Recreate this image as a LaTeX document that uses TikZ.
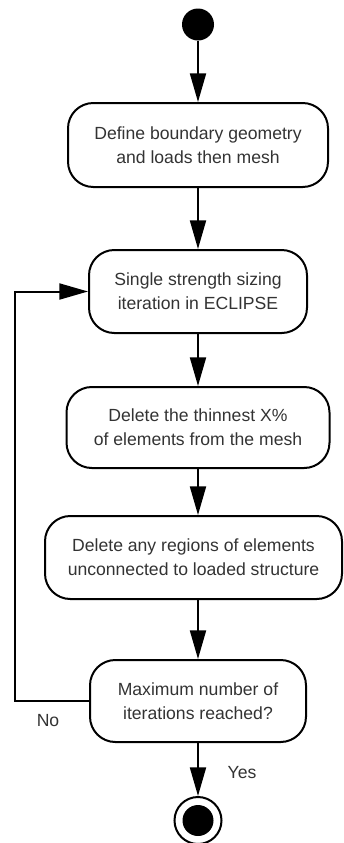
\documentclass[tikz,border=0pt]{standalone}
\usepackage{fontspec}
\setmainfont{Liberation Sans}
\usetikzlibrary{arrows.meta}
\definecolor{txtgray}{RGB}{51,51,51}

\tikzset{every picture/.style={line width=0.75pt}}
\tikzset{
  stepbox/.style={draw, line width=1.5, rounded corners=19pt, align=center, inner sep=0pt,
    font=\fontsize{13.2}{18}\selectfont, text=txtgray},
  flowarrow/.style={line width=1.5, -{Triangle[length=21.5pt,width=12pt]}},
  labeltext/.style={inner sep=0pt, font=\fontsize{13.2}{18}\selectfont, text=txtgray},
}

\begin{document}
\begin{tikzpicture}[x=0.75pt,y=0.75pt,yscale=-1,xscale=1]
    \useasboundingbox (0,0) rectangle (343,843);

    %Shape: Circle [start]
    \node (start) [circle, fill=black, inner sep=0pt, minimum size=24pt] at (198,24.5) {};
    %Shape: Rounded Rect
    \node (define) [stepbox, minimum width=195pt, minimum height=63pt] at (198,145) {Define boundary geometry\\and loads then mesh};
    %Shape: Rounded Rect
    \node (sizing) [stepbox, minimum width=163.5pt, minimum height=62.25pt] at (198,291.5) {Single strength sizing\\iteration in ECLIPSE};
    %Shape: Rounded Rect
    \node (thinnest) [stepbox, minimum width=197.25pt, minimum height=60.75pt] at (198,427.5) {Delete the thinnest X\%\\of elements from the mesh};
    %Shape: Rounded Rect
    \node (regions) [stepbox, minimum width=222.75pt, minimum height=62.25pt] at (193.5,557.5) {Delete any regions of elements\\unconnected to loaded structure};
    %Shape: Rounded Rect
    \node (maxiter) [stepbox, minimum width=162pt, minimum height=61.5pt] at (198,701) {Maximum number of\\iterations reached?};
    %Shape: Circle [stop]
    \node (stop) [circle, draw, line width=1.5, inner sep=0pt, minimum size=35.25pt] at (198,820.5) {};
    \node (stopdot) [circle, fill=black, inner sep=0pt, minimum size=23.25pt] at (stop) {};

    \coordinate (loopx) at (15,701);

    %Straight Lines
    \draw [flowarrow] (start) -- (define);
    \draw [flowarrow] (define) -- (sizing);
    \draw [flowarrow] (sizing) -- (thinnest);
    \draw [flowarrow] (thinnest.south) -- (thinnest.south |- regions.north);
    \draw [flowarrow] (maxiter.north |- regions.south) -- (maxiter.north);
    \draw [flowarrow] (maxiter) -- (stop);
    %Loop back
    \draw [flowarrow] (maxiter.west) -- (loopx) |- (sizing.west);

    % Text Node
    \node (no) [labeltext] at (48,721) {No};
    % Text Node
    \node (yes) [labeltext] at (242,773) {Yes};

\end{tikzpicture}
\end{document}
